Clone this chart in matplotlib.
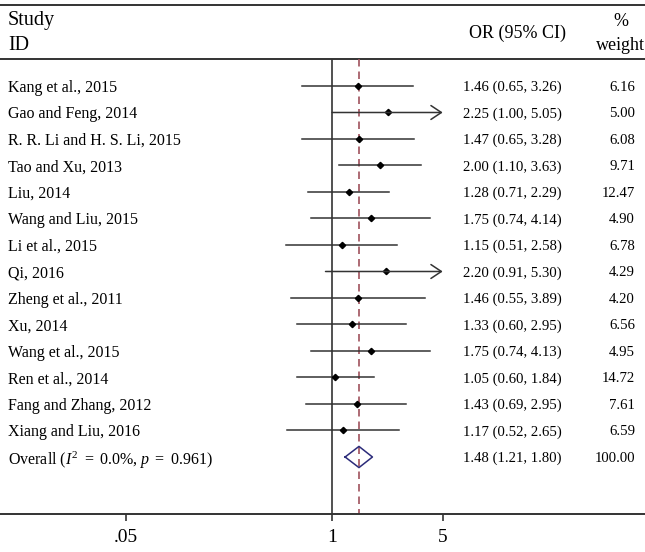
import numpy as np
import matplotlib
matplotlib.use("Agg")
import matplotlib.pyplot as plt
import matplotlib.transforms as mtransforms
from matplotlib.ticker import FixedLocator, FixedFormatter, NullLocator

plt.rcParams["font.family"] = ["Liberation Serif", "DejaVu Serif"]
plt.rcParams["mathtext.fontset"] = "custom"
plt.rcParams["mathtext.rm"] = "Liberation Serif"
plt.rcParams["mathtext.it"] = "Liberation Serif:italic"

# study data
studies = ["Kang et al., 2015", "Gao and Feng, 2014", "R. R. Li and H. S. Li, 2015",
           "Tao and Xu, 2013", "Liu, 2014", "Wang and Liu, 2015", "Li et al., 2015",
           "Qi, 2016", "Zheng et al., 2011", "Xu, 2014", "Wang et al., 2015",
           "Ren et al., 2014", "Fang and Zhang, 2012", "Xiang and Liu, 2016"]
odds = [1.46, 2.25, 1.47, 2.00, 1.28, 1.75, 1.15, 2.20, 1.46, 1.33, 1.75, 1.05, 1.43, 1.17]
lower = [0.65, 1.00, 0.65, 1.10, 0.71, 0.74, 0.51, 0.91, 0.55, 0.60, 0.74, 0.60, 0.69, 0.52]
upper = [3.26, 5.05, 3.28, 3.63, 2.29, 4.14, 2.58, 5.30, 3.89, 2.95, 4.13, 1.84, 2.95, 2.65]
weights = [6.16, 5.00, 6.08, 9.71, 12.47, 4.90, 6.78, 4.29, 4.20, 6.56, 4.95, 14.72, 7.61, 6.59]

overall_label = r"Overall ($I^2$ $=$ 0.0%, $p$ $=$ 0.961)"
overall_or, overall_lo, overall_hi, overall_w = 1.48, 1.21, 1.80, 100.00

tick_vals = [0.05, 1, 5]
tick_labels = [".05", "1", "5"]
clip_max = 5

fig = plt.figure(figsize=(6.45, 5.52), dpi=100)
ax = fig.add_axes([0, 0, 1, 1])
ax.set_xscale("log")
ax.set_xlim(np.exp(-332 / 68.8), np.exp(313 / 68.8))
ax.set_ylim(17.585, -3.245)

line_col = "#333333"
rows = np.arange(len(studies))
y_over = len(studies)
y_head = -1.02
y_axis = 16.15

trans = mtransforms.blended_transform_factory(ax.transAxes, ax.transData)
name_kw = dict(transform=trans, fontsize=11.5, va="center_baseline")
row_kw = dict(transform=trans, fontsize=10.6, va="center_baseline")
head_kw = dict(transform=trans, fontsize=13, va="center_baseline")

# header
ax.text(0.0124, -2.55, "Study", ha="left", fontsize=14.5, transform=trans, va="center_baseline")
ax.text(0.0124, -1.62, "ID", ha="left", fontsize=14.5, transform=trans, va="center_baseline")
ax.text(0.8016, -2.05, "OR (95% CI)", ha="center", **head_kw)
ax.text(0.962, -2.5, "%", ha="center", **head_kw)
ax.text(0.962, -1.62, "weight", ha="center", **head_kw)
ax.axhline(-3.06, color=line_col, lw=1.4)
ax.axhline(y_head, color=line_col, lw=1.4)

# reference lines
ax.vlines(1, y_head, y_axis, color=line_col, lw=1.2)
ax.vlines(overall_or, y_head, y_axis, color="#a0525c", lw=1.2, linestyles=(0, (4.5, 3)))

# study rows
for i, name in enumerate(studies):
    y = rows[i]
    if upper[i] > clip_max:
        ax.annotate("", xy=(clip_max, y), xytext=(lower[i], y),
                    arrowprops=dict(arrowstyle="->,head_length=0.75,head_width=0.5",
                                    color=line_col, lw=1.1, shrinkA=0, shrinkB=0))
    else:
        ax.plot([lower[i], upper[i]], [y, y], color=line_col, lw=1.1)
    ax.plot(odds[i], y, marker="D", color="black", markersize=3.2)
    ax.text(0.0124, y, name, ha="left", **name_kw)
    ax.text(0.718, y, f"{odds[i]:.2f} ({lower[i]:.2f}, {upper[i]:.2f})", ha="left", **row_kw)
    ax.text(0.9845, y, f"{weights[i]:.2f}", ha="right", **row_kw)

# overall diamond
dx = [overall_lo, overall_or, overall_hi, overall_or, overall_lo]
dy = [y_over, y_over - 0.4, y_over, y_over + 0.4, y_over]
ax.plot(dx, dy, color="#2b2b7a", lw=1.1)
ax.text(0.0124, y_over, overall_label, ha="left", **name_kw)
ax.text(0.718, y_over, f"{overall_or:.2f} ({overall_lo:.2f}, {overall_hi:.2f})", ha="left", **row_kw)
ax.text(0.9845, y_over, f"{overall_w:.2f}", ha="right", **row_kw)

# x axis
for s in ["top", "left", "right"]:
    ax.spines[s].set_visible(False)
ax.spines["bottom"].set_position(("data", y_axis))
ax.spines["bottom"].set_color(line_col)
ax.spines["bottom"].set_linewidth(1.4)
ax.xaxis.set_major_locator(FixedLocator(tick_vals))
ax.xaxis.set_major_formatter(FixedFormatter(tick_labels))
ax.xaxis.set_minor_locator(NullLocator())
ax.tick_params(axis="x", direction="out", length=5, width=1.2, color=line_col,
               labelsize=14, pad=6)
ax.set_yticks([])

fig.savefig("out.png", dpi=100)
